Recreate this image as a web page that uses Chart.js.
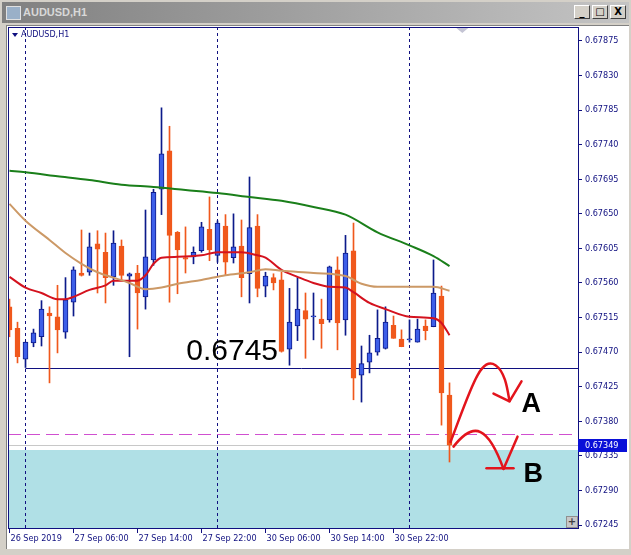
<!DOCTYPE html>
<html>
<head>
<meta charset="utf-8">
<script src="https://cdn.jsdelivr.net/npm/chart.js@4.4.1/dist/chart.umd.min.js"></script>
<style>
  body { margin:0; width:631px; height:555px; background:#d4d0c8; position:relative; overflow:hidden; }
  #title { position:absolute; left:2px; top:2px; width:627px; height:21px; background:linear-gradient(to right,#808080,#c4c4c4); }
  #title span { position:absolute; left:21px; top:4px; font:bold 11px 'Liberation Sans',Arial,sans-serif; color:#d8d8d8; }
  #icon { position:absolute; left:4px; top:4px; width:13px; height:12px; background:#9ab0c8; border:1px solid #e0e0e0; }
  .btn { position:absolute; top:5px; width:14px; height:12px; background:#d4d0c8; border:1px solid; border-color:#fff #404040 #404040 #fff; font:bold 10px 'DejaVu Sans',sans-serif; color:#000; text-align:center; line-height:12px; }
  #client { position:absolute; left:6px; top:25px; width:622px; height:523px; background:#fff; border-top:1px solid #808080; border-left:1px solid #808080; }
  #plus { position:absolute; left:566px; top:516px; width:10px; height:10px; background:#c8c8c8; border:1px solid #909090; font:bold 10px 'DejaVu Sans',sans-serif; line-height:10px; text-align:center; color:#404040; }
  canvas { position:absolute; left:0; top:0; }
</style>
</head>
<body>
<div id="title"><div id="icon"></div><span>AUDUSD,H1</span></div>
<div class="btn" style="left:574px">_</div>
<div class="btn" style="left:592px">&#9633;</div>
<div class="btn" style="left:610px">X</div>
<div id="client"></div>
<canvas id="c" width="631" height="555"></canvas>
<div id="plus">+</div>
<script>
// hourly bars from 26 Sep 22:00 to 1 Oct 05:00
const opens  = [0.67529,0.67501,0.67461,0.67482,0.67490,0.67521,0.67516,0.67496,0.67535,0.67573,
                0.67574,0.67611,0.67600,0.67568,0.67608,0.67569,0.67573,0.67542,0.67590,0.67682,
                0.67732,0.67626,0.67593,0.67594,0.67602,0.67630,0.67596,0.67634,0.67593,0.67608,
                0.67572,0.67634,0.67556,0.67567,0.67564,0.67474,0.67504,0.67524,0.67516,0.67513,
                0.67512,0.67577,0.67512,0.67602,0.67440,0.67457,0.67470,0.67475,0.67505,0.67487,
                0.67486,0.67483,0.67504,0.67503,0.67543,0.67414];
const highs  = [0.67539,0.67509,0.67483,0.67500,0.67537,0.67529,0.67557,0.67567,0.67581,0.67629,
                0.67625,0.67628,0.67625,0.67628,0.67616,0.67573,0.67583,0.67655,0.67682,0.67788,
                0.67764,0.67627,0.67633,0.67607,0.67639,0.67672,0.67641,0.67649,0.67650,0.67642,
                0.67698,0.67649,0.67574,0.67572,0.67574,0.67553,0.67567,0.67547,0.67547,0.67539,
                0.67582,0.67594,0.67622,0.67638,0.67478,0.67492,0.67525,0.67529,0.67517,0.67499,
                0.67512,0.67513,0.67512,0.67590,0.67556,0.67430];
const lows   = [0.67490,0.67456,0.67450,0.67477,0.67478,0.67430,0.67469,0.67488,0.67517,0.67569,
                0.67570,0.67547,0.67534,0.67557,0.67564,0.67464,0.67500,0.67526,0.67583,0.67649,
                0.67535,0.67546,0.67573,0.67585,0.67600,0.67589,0.67587,0.67570,0.67586,0.67542,
                0.67534,0.67542,0.67542,0.67551,0.67470,0.67453,0.67485,0.67462,0.67486,0.67475,
                0.67509,0.67473,0.67492,0.67408,0.67405,0.67443,0.67466,0.67474,0.67488,0.67477,
                0.67483,0.67483,0.67486,0.67503,0.67375,0.67327];
const closes = [0.67499,0.67464,0.67483,0.67495,0.67526,0.67517,0.67499,0.67538,0.67577,0.67570,
                0.67607,0.67604,0.67567,0.67612,0.67570,0.67572,0.67547,0.67594,0.67678,0.67728,
                0.67622,0.67603,0.67591,0.67600,0.67633,0.67603,0.67638,0.67587,0.67607,0.67567,
                0.67632,0.67553,0.67569,0.67560,0.67471,0.67509,0.67526,0.67513,0.67517,0.67507,
                0.67581,0.67508,0.67599,0.67436,0.67455,0.67469,0.67488,0.67509,0.67488,0.67477,
                0.67487,0.67500,0.67498,0.67547,0.67417,0.67349];

// moving averages (bar index, price)
const slowIdx = [0,2,6,10,14,18,22,26,30,34,38,42,46,50,53,55];
const slowMa  = [0.67706,0.67704,0.67699,0.67694,0.67688,0.67685,0.67681,0.67677,0.67672,0.67667,
                 0.67659,0.67649,0.67626,0.67609,0.67595,0.67582];
const midIdx  = [0,2,5,7,9,11,13,15,17,19,21,24,27,30,32,34,38,42,44,46,50,53,55];
const midMa   = [0.67663,0.67641,0.67616,0.67599,0.67585,0.67574,0.67567,0.67560,0.67552,0.67554,
                 0.67559,0.67564,0.67570,0.67574,0.67578,0.67576,0.67573,0.67569,0.67559,0.67555,
                 0.67555,0.67555,0.67550];
const fastIdx = [0,2,4,6,7,8,10,12,13,15,16,17,18,19,21,24,26,29,31,32,34,36,38,40,42,43,45,47,50,53,54,55];
const fastMa  = [0.67568,0.67554,0.67547,0.67539,0.67539,0.67542,0.67551,0.67557,0.67563,0.67563,
                 0.67563,0.67570,0.67585,0.67593,0.67594,0.67596,0.67600,0.67600,0.67596,0.67593,
                 0.67577,0.67568,0.67560,0.67555,0.67554,0.67548,0.67534,0.67526,0.67516,0.67514,
                 0.67508,0.67492];

const timeIdx = [0,8,16,24,32,40,48];
const timeLabels = ['26 Sep 2019','27 Sep 06:00','27 Sep 14:00','27 Sep 22:00','30 Sep 06:00','30 Sep 14:00','30 Sep 22:00'];
const yTicks = [0.67245,0.67290,0.67335,0.67380,0.67425,0.67470,0.67515,0.67560,0.67605,0.67650,0.67695,0.67740,0.67785,0.67830,0.67875];
const daySeps = [2,26,50];
const levelPrice = 0.6745, levelFrom = 2;
const dashPrice = 0.67363;
const bidPrice = 0.67349;
const zoneTop = 0.67343;

// hand drawn arrows, in (bar index, price)
const arrowA = [[55.125,0.67353],[57.625,0.67421],[58.875,0.67466],[60.75,0.67453],[62,0.67444],[62.25,0.67421],[62.5,0.67406]];
const arrowAHead = [[60.5,0.67416],[62.5,0.67406],[64,0.67432]];
const arrowB = [[55.5,0.67347],[56.625,0.67362],[57.875,0.67371],[58.875,0.67366],[60.125,0.67360],[61.125,0.67336],[61.75,0.67318]];
const arrowBHead = [[61.75,0.67318],[63.5,0.67360]];
const arrowBBar = [[59.625,0.67319],[63,0.67319]];

const NAVY = '#101080';
const up = closes.map((c,i) => c >= opens[i]);
const bodyFill = up.map(u => u ? '#3d5ee8' : '#f0581c');
const bodyLine = up.map(u => u ? '#0c1a8a' : '#f0581c');
const wickCol  = up.map(u => u ? '#0c1a8a' : '#f0581c');

const maSet = (idx, vals, col) => ({
  type: 'line', data: idx.map((v,i) => ({x: v, y: vals[i]})), borderColor: col, borderWidth: 2,
  pointRadius: 0, cubicInterpolationMode: 'monotone', order: 0
});

const overlay = {
  id: 'overlay',
  beforeDatasetsDraw(chart) {
    const {ctx, chartArea: a, scales: {x, y}} = chart;
    ctx.save();
    ctx.beginPath(); ctx.rect(a.left, a.top, a.right - a.left, a.bottom - a.top); ctx.clip();
    const zt = Math.round(y.getPixelForValue(zoneTop));
    ctx.fillStyle = '#b0e0e6';
    ctx.fillRect(a.left, zt, a.right - a.left, a.bottom - zt);
    ctx.lineWidth = 1;
    ctx.strokeStyle = NAVY;
    ctx.setLineDash([3,3]);
    daySeps.forEach(s => {
      const px = Math.round(x.getPixelForValue(s)) - 0.5;
      ctx.beginPath(); ctx.moveTo(px, a.top); ctx.lineTo(px, a.bottom); ctx.stroke();
    });
    ctx.setLineDash([]);
    let py = Math.round(y.getPixelForValue(levelPrice)) + 0.5;
    ctx.beginPath(); ctx.moveTo(x.getPixelForValue(levelFrom), py); ctx.lineTo(a.right, py); ctx.stroke();
    ctx.strokeStyle = '#d050d0'; ctx.setLineDash([13,6]);
    py = Math.round(y.getPixelForValue(dashPrice)) + 0.5;
    ctx.beginPath(); ctx.moveTo(a.left, py); ctx.lineTo(a.right, py); ctx.stroke();
    ctx.strokeStyle = '#c8c8c8'; ctx.setLineDash([]);
    py = Math.round(y.getPixelForValue(bidPrice)) + 0.5;
    ctx.beginPath(); ctx.moveTo(a.left, py); ctx.lineTo(a.right, py); ctx.stroke();
    ctx.restore();
  },
  afterDatasetsDraw(chart) {
    const {ctx, chartArea: a, scales: {x, y}} = chart;
    const P = p => [x.getPixelForValue(p[0]), y.getPixelForValue(p[1])];
    ctx.save();
    ctx.fillStyle = '#000';
    ctx.font = '30px "Liberation Sans", Arial, sans-serif';
    ctx.textBaseline = 'alphabetic';
    ctx.fillText('0.6745', x.getPixelForValue(22.1), y.getPixelForValue(0.67460));
    ctx.font = 'bold 27px "Liberation Sans", Arial, sans-serif';
    ctx.fillText('A', x.getPixelForValue(64), y.getPixelForValue(0.67392));
    ctx.fillText('B', x.getPixelForValue(64.25), y.getPixelForValue(0.67301));
    // arrows
    ctx.strokeStyle = '#e3141c'; ctx.lineWidth = 2.5; ctx.lineCap = 'round'; ctx.lineJoin = 'round';
    const curve = pts => {
      const q = pts.map(P);
      ctx.beginPath(); ctx.moveTo(...q[0]);
      ctx.bezierCurveTo(...q[1], ...q[2], ...q[3]);
      ctx.bezierCurveTo(...q[4], ...q[5], ...q[6]);
      ctx.stroke();
    };
    const poly = pts => {
      const q = pts.map(P);
      ctx.beginPath(); ctx.moveTo(...q[0]);
      q.slice(1).forEach(p => ctx.lineTo(...p));
      ctx.stroke();
    };
    curve(arrowA); poly(arrowAHead);
    curve(arrowB); poly(arrowBHead); poly(arrowBBar);
    ctx.restore();
  },
  afterDraw(chart) {
    const {ctx, chartArea: a, scales: {x, y}} = chart;
    ctx.save();
    ctx.strokeStyle = NAVY; ctx.lineWidth = 1;
    ctx.strokeRect(a.left + 0.5, a.top + 0.5, a.right - a.left, a.bottom - a.top);
    // symbol label
    ctx.fillStyle = NAVY;
    ctx.beginPath();
    ctx.moveTo(a.left + 4, a.top + 6); ctx.lineTo(a.left + 10, a.top + 6); ctx.lineTo(a.left + 7, a.top + 10);
    ctx.closePath(); ctx.fill();
    ctx.font = '8px "DejaVu Sans", sans-serif';
    ctx.textBaseline = 'middle';
    ctx.fillText('AUDUSD,H1', a.left + 13, a.top + 8);
    // chart shift marker
    const sx = x.getPixelForValue(56.6);
    ctx.fillStyle = '#c4c4d4';
    ctx.beginPath(); ctx.moveTo(sx - 6, a.top + 1); ctx.lineTo(sx + 6, a.top + 1); ctx.lineTo(sx, a.top + 6); ctx.closePath(); ctx.fill();
    // bid price box
    const by = Math.round(y.getPixelForValue(bidPrice));
    ctx.fillStyle = '#0a10d8';
    ctx.fillRect(a.right, by - 6, 49, 13);
    ctx.fillStyle = '#fff';
    ctx.font = '9px "DejaVu Sans Condensed", "DejaVu Sans", sans-serif';
    ctx.fillText(bidPrice.toFixed(5), a.right + 7, by + 0.5);
    ctx.restore();
  }
};

new Chart(document.getElementById('c'), {
  type: 'bar',
  data: {
    datasets: [
      maSet(slowIdx, slowMa, '#1a7f1a'),
      maSet(midIdx, midMa, '#cc9966'),
      maSet(fastIdx, fastMa, '#d4121e'),
      {
        data: opens.map((o,i) => ({x: i, y: [o, closes[i]]})),
        backgroundColor: bodyFill, borderColor: bodyLine, borderWidth: 1, borderSkipped: false,
        barThickness: 5, minBarLength: 1, grouped: false, order: 1
      },
      {
        data: lows.map((l,i) => ({x: i, y: [l, highs[i]]})),
        backgroundColor: wickCol, borderWidth: 0, barThickness: 1, grouped: false, order: 2
      }
    ]
  },
  options: {
    responsive: false,
    animation: false,
    layout: { padding: { left: 8, top: 27, right: 4, bottom: 7 } },
    plugins: { legend: { display: false }, tooltip: { enabled: false } },
    scales: {
      x: {
        type: 'linear', min: -0.1875, max: 71.0625, offset: false,
        afterFit: s => { s.height = 20; },
        afterBuildTicks: s => { s.ticks = timeIdx.map(v => ({value: v})); },
        grid: { drawOnChartArea: false, offset: false, color: NAVY, tickLength: 5 },
        border: { display: false },
        ticks: {
          autoSkip: false, maxRotation: 0, align: 'start', padding: 0, labelOffset: 1,
          color: NAVY, font: { family: '"DejaVu Sans Condensed", "DejaVu Sans", sans-serif', size: 9 },
          callback: (v, i) => timeLabels[i]
        }
      },
      y: {
        position: 'right', min: 0.672411, max: 0.678932,
        afterFit: s => { s.width = 49; },
        afterBuildTicks: s => { s.ticks = yTicks.map(v => ({value: v})); },
        grid: { drawOnChartArea: false, color: NAVY, tickLength: 4 },
        border: { display: false },
        ticks: {
          padding: 3, color: NAVY, autoSkip: false,
          font: { family: '"DejaVu Sans Condensed", "DejaVu Sans", sans-serif', size: 9 },
          callback: v => v.toFixed(5)
        }
      }
    }
  },
  plugins: [overlay]
});
</script>
</body>
</html>
